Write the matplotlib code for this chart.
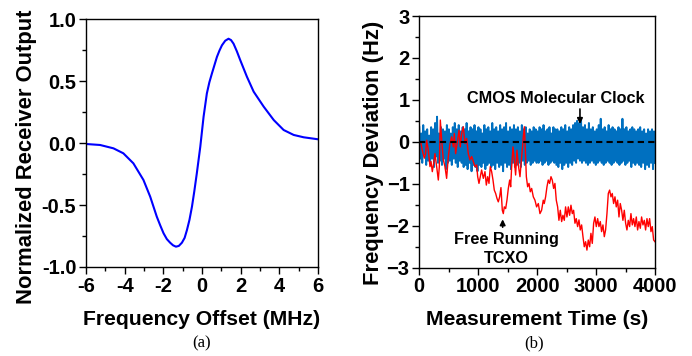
# Receiver output lineshape (a) and frequency deviation vs time (b)

import numpy as np
import matplotlib.pyplot as plt
from matplotlib.ticker import MultipleLocator

# (a) normalized receiver output vs frequency offset
offset_mhz = [-6.0, -5.27, -4.58, -4.07, -3.55, -3.03, -2.68, -2.34, -2.16, -1.99, -1.82, -1.65,
              -1.5, -1.35, -1.2, -1.04, -0.9, -0.78, -0.65, -0.52, -0.4, -0.27, -0.09, 0.08, 0.25,
              0.38, 0.51, 0.77, 0.9, 1.03, 1.2, 1.37, 1.5, 1.63, 1.8, 1.98, 2.32, 2.67, 3.19, 3.71,
              4.22, 4.74, 5.26, 6.0]
receiver_out = [-0.008, -0.016, -0.043, -0.083, -0.164, -0.298, -0.433, -0.594, -0.665, -0.728, -0.775,
                -0.804, -0.825, -0.836, -0.83, -0.804, -0.765, -0.702, -0.62, -0.513, -0.39, -0.245,
                -0.03, 0.212, 0.40, 0.49, 0.56, 0.694, 0.745, 0.788, 0.825, 0.841, 0.83, 0.801, 0.74,
                0.667, 0.535, 0.414, 0.293, 0.185, 0.105, 0.065, 0.046, 0.03]

# (b) CMOS molecular clock deviation (Hz), evenly sampled over 0..4000 s
cmos_dev = [
    0.35, -0.4, 0.2, -0.5, 0.4, -0.3, 0.25, -0.55, 0.3, -0.45, 0.15, -0.5, 0.35, -0.4, 0.3, -0.6, 0.45, -0.35, 0.6, -0.5,
    0.2, -0.45, 0.35, -0.55, 0.3, -0.4, 0.25, -0.65, 0.4, -0.5, 0.3, -0.45, 0.2, -0.55, 0.35, -0.4, 0.45, -0.5, 0.3, -0.6,
    0.4, -0.45, 0.25, -0.5, 0.35, -0.6, 0.3, -0.55, 0.45, -0.65, 0.25, -0.5, 0.35, -0.7, 0.3, -0.55, 0.4, -0.6, 0.25, -0.7,
    0.35, -0.55, 0.3, -0.6, 0.2, -0.5, 0.4, -0.65, 0.3, -0.55, 0.35, -0.5, 0.25, -0.6, 0.45, -0.55, 0.3, -0.65, 0.35, -0.5,
    0.25, -0.6, 0.4, -0.55, 0.3, -0.7, 0.35, -0.5, 0.45, -0.6, 0.25, -0.55, 0.35, -0.65, 0.3, -0.5, 0.4, -0.6, 0.3, -0.55,
    0.35, -0.5, 0.25, -0.6, 0.4, -0.45, 0.3, -0.55, 0.35, -0.5, 0.2, -0.45, 0.3, -0.55, 0.25, -0.5, 0.35, -0.45, 0.3, -0.5,
    0.25, -0.5, 0.35, -0.45, 0.3, -0.55, 0.4, -0.5, 0.25, -0.45, 0.3, -0.55, 0.35, -0.5, 0.2, -0.45, 0.35, -0.5, 0.3, -0.55,
    0.3, -0.6, 0.25, -0.5, 0.35, -0.65, 0.3, -0.55, 0.4, -0.5, 0.25, -0.6, 0.35, -0.5, 0.3, -0.55, 0.4, -0.45, 0.45, -0.5,
    0.5, -0.4, 0.45, -0.45, 0.55, -0.5, 0.35, -0.45, 0.4, -0.5, 0.3, -0.55, 0.45, -0.5, 0.3, -0.45, 0.35, -0.5, 0.25, -0.55,
    0.3, -0.5, 0.4, -0.45, 0.55, -0.5, 0.3, -0.55, 0.35, -0.5, 0.25, -0.45, 0.4, -0.5, 0.3, -0.55, 0.35, -0.5, 0.3, -0.45,
    0.25, -0.5, 0.35, -0.55, 0.3, -0.5, 0.55, -0.45, 0.3, -0.55, 0.35, -0.5, 0.25, -0.45, 0.3, -0.6, 0.35, -0.5, 0.3, -0.55,
    0.25, -0.5, 0.3, -0.55, 0.35, -0.6, 0.25, -0.5, 0.3, -0.65, 0.2, -0.55, 0.3, -0.6, 0.25, -0.5, 0.3, -0.65, 0.25, -0.5,
]
cmos_time = np.linspace(0, 4000, len(cmos_dev))

# (b) free running TCXO deviation (Hz)
tcxo_time = [0, 29, 51, 85, 108, 125, 153, 182, 199, 221, 244, 266, 295, 323, 340, 357, 380, 408, 436,
             464, 493, 521, 549, 578, 594, 617, 651, 674, 696, 719, 747, 776, 804, 832, 860, 889, 917,
             945, 974, 991, 1013, 1036, 1058, 1087, 1115, 1138, 1160, 1183, 1205, 1228, 1251, 1273,
             1296, 1319, 1341, 1364, 1386, 1409, 1426, 1443, 1466, 1488, 1511, 1534, 1551, 1568, 1590,
             1613, 1635, 1658, 1681, 1709, 1737, 1766, 1783, 1800, 1817, 1839, 1862, 1884, 1907, 1935,
             1963, 1991, 2020, 2048, 2076, 2104, 2121, 2144, 2167, 2189, 2212, 2235, 2257, 2280, 2302,
             2325, 2348, 2370, 2393, 2416, 2438, 2461, 2483, 2506, 2529, 2551, 2574, 2597, 2619, 2642,
             2664, 2687, 2710, 2732, 2755, 2778, 2800, 2823, 2845, 2868, 2891, 2913, 2936, 2959, 2981,
             3004, 3027, 3049, 3072, 3094, 3117, 3140, 3162, 3185, 3208, 3230, 3253, 3275, 3298, 3321,
             3343, 3366, 3389, 3411, 3434, 3456, 3479, 3502, 3524, 3547, 3570, 3592, 3615, 3637, 3660,
             3683, 3705, 3728, 3751, 3773, 3796, 3819, 3841, 3864, 3886, 3909, 3932, 3954, 3977, 4000]
tcxo_dev = [0.02, -0.04, -0.20, -0.39, -0.28, 0.04, -0.20, -0.59, -0.47, -0.71, -0.51, -0.28, -0.59,
            -0.91, -0.59, 0.52, 0.04, -0.43, -0.59, -0.87, -0.35, -0.04, 0.12, -0.12, 0.20, -0.28, 0.04,
            0.28, -0.12, 0.20, 0.36, -0.04, 0.08, -0.28, -0.43, -0.35, -0.47, -0.59, -0.55, -0.83, -0.99,
            -0.83, -0.67, -0.87, -0.71, -1.03, -0.83, -0.99, -0.59, -0.71, -0.91, -1.15, -1.23, -1.35,
            -1.43, -1.31, -1.09, -1.63, -1.71, -1.55, -1.59, -1.39, -1.11, -0.91, -1.07, -0.59, -0.12,
            -0.43, -0.79, -0.20, -0.55, -0.83, -0.35, 0.12, 0.36, -0.20, -0.83, -1.07, -0.99, -1.19,
            -1.11, -1.31, -1.39, -1.55, -1.47, -1.71, -1.63, -1.39, -1.47, -1.31, -1.07, -0.91, -0.99,
            -0.83, -0.91, -1.11, -0.99, -1.39, -1.55, -1.87, -1.63, -1.90, -1.75, -1.87, -1.55, -1.79,
            -1.55, -1.75, -1.51, -1.71, -1.63, -1.94, -1.83, -2.02, -1.86, -2.10, -1.98, -2.26, -2.50,
            -2.38, -2.58, -2.34, -2.50, -2.18, -2.42, -1.94, -1.79, -2.02, -1.83, -2.02, -1.90, -2.14,
            -1.98, -2.26, -2.10, -1.71, -1.23, -1.15, -1.31, -1.23, -1.47, -1.31, -1.55, -1.39, -1.79,
            -1.47, -1.63, -1.87, -1.63, -1.94, -2.10, -1.87, -2.02, -1.71, -1.98, -1.83, -2.02, -1.79,
            -2.10, -1.90, -2.06, -1.79, -1.98, -1.87, -2.10, -1.83, -2.02, -1.83, -2.14, -2.02, -2.34,
            -2.38]

plt.rcParams["font.family"] = ["Liberation Sans", "DejaVu Sans"]
plt.rcParams["font.weight"] = "bold"

fig = plt.figure(figsize=(6.92, 3.56), dpi=100)
ax_a = fig.add_axes([0.1243, 0.25, 0.3353, 0.6966])
ax_b = fig.add_axes([0.6059, 0.248, 0.3406, 0.707])

tick_fs = 14.5
xlabel_fs = 15.2
ylabel_fs = 15.8
note_fs = 11.7

for ax in [ax_a, ax_b]:
    for s in ax.spines.values():
        s.set_linewidth(1.0)
    ax.tick_params(which="both", direction="out", top=False, right=False,
                   labelsize=tick_fs, width=1.0)
    ax.tick_params(which="major", length=5, pad=2)
    ax.tick_params(which="minor", length=3)

# (a)
ax_a.plot(offset_mhz, receiver_out, color="#0000ff", linewidth=1.5)
ax_a.set_xlim(-6, 6)
ax_a.set_ylim(-1.0, 1.0)
ax_a.xaxis.set_major_locator(MultipleLocator(2))
ax_a.xaxis.set_minor_locator(MultipleLocator(1))
ax_a.yaxis.set_major_locator(MultipleLocator(0.5))
ax_a.yaxis.set_minor_locator(MultipleLocator(0.25))
ax_a.set_yticklabels([f"{v:.1f}" for v in ax_a.get_yticks()])
ax_a.set_xticklabels([f"{v:.0f}" for v in ax_a.get_xticks()])
ax_a.set_xlabel("Frequency Offset (MHz)", fontsize=xlabel_fs, fontweight="bold", va="baseline")
ax_a.xaxis.set_label_coords(0.5, -0.234)
ax_a.set_ylabel("Normalized Receiver Output", fontsize=ylabel_fs, fontweight="bold", va="baseline")
ax_a.yaxis.set_label_coords(-0.233, 0.445)

# (b)
ax_b.plot(cmos_time, cmos_dev, color="#0070c0", linewidth=1.4)
ax_b.plot(tcxo_time, tcxo_dev, color="#ff0000", linewidth=1.0)
ax_b.axhline(0, color="black", linewidth=1.5, linestyle=(0, (3, 2)))
ax_b.set_xlim(0, 4000)
ax_b.set_ylim(-3, 3)
ax_b.xaxis.set_major_locator(MultipleLocator(1000))
ax_b.xaxis.set_minor_locator(MultipleLocator(500))
ax_b.yaxis.set_major_locator(MultipleLocator(1))
ax_b.yaxis.set_minor_locator(MultipleLocator(0.5))
ax_b.set_xlabel("Measurement Time (s)", fontsize=xlabel_fs, fontweight="bold", va="baseline")
ax_b.xaxis.set_label_coords(0.5, -0.228)
ax_b.set_ylabel("Frequency Deviation (Hz)", fontsize=ylabel_fs, fontweight="bold", va="baseline")
ax_b.yaxis.set_label_coords(-0.171, 0.458)

ax_b.annotate("", xy=(2727, 0.36), xytext=(2727, 0.85),
              arrowprops=dict(arrowstyle="-|>", color="black", lw=1.2, mutation_scale=8))
ax_b.text(2320, 1.04, "CMOS Molecular Clock", fontsize=note_fs, fontweight="bold",
          ha="center", va="center")
ax_b.annotate("", xy=(1415, -1.78), xytext=(1415, -2.1),
              arrowprops=dict(arrowstyle="-|>", color="black", lw=1.2, mutation_scale=8))
ax_b.text(1475, -2.33, "Free Running", fontsize=note_fs, fontweight="bold", ha="center", va="center")
ax_b.text(1475, -2.78, "TCXO", fontsize=note_fs, fontweight="bold", ha="center", va="center")

fig.text(202 / 692, 1 - 343 / 356, "(a)", fontsize=12, fontweight="normal",
         family="Liberation Serif", ha="center", va="center")
fig.text(534 / 692, 1 - 343 / 356, "(b)", fontsize=12, fontweight="normal",
         family="Liberation Serif", ha="center", va="center")

fig.savefig("out.png", dpi=100)
